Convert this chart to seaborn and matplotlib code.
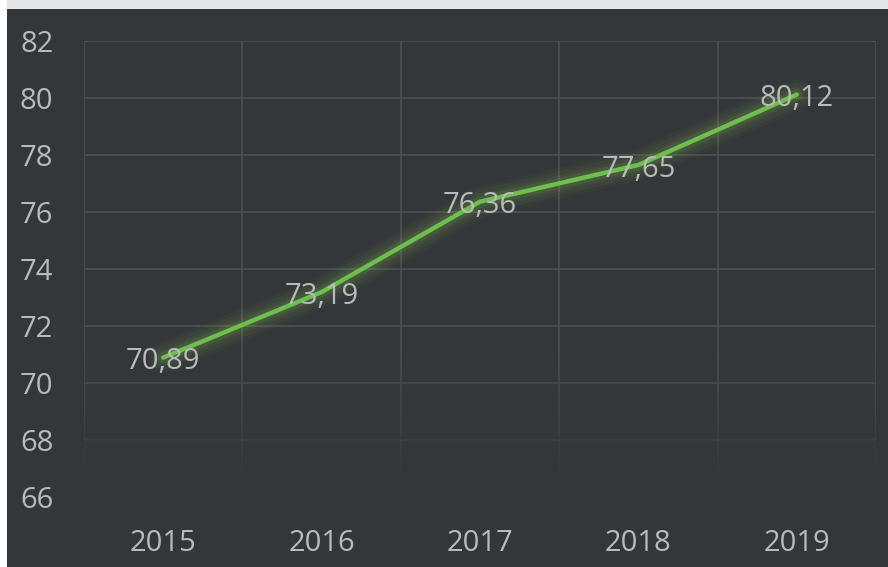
import numpy as np
import pandas as pd
import matplotlib
matplotlib.use("Agg")
import matplotlib.pyplot as plt
import seaborn as sns
from matplotlib.patches import Rectangle

years = ["2015", "2016", "2017", "2018", "2019"]
values = [70.89, 73.19, 76.36, 77.65, 80.12]
yticks = [66, 68, 70, 72, 74, 76, 78, 80, 82]

BG = "#34373a"
GRID = "#4e5154"
TXT = "#b8babc"
GREEN = "#6dbf4e"

sns.set_theme(style="dark")
plt.rcParams['font.family'] = ['Open Sans', 'DejaVu Sans']

fig = plt.figure(figsize=(8.88, 5.67), dpi=100, facecolor=BG)
# light border at top and left
fig.patches.append(Rectangle((0, 1 - 9/567), 1, 9/567, transform=fig.transFigure,
                             facecolor="#e6e6e6", edgecolor="none", zorder=-10))
fig.patches.append(Rectangle((0, 0), 7/888, 1, transform=fig.transFigure,
                             facecolor="white", edgecolor="none", zorder=-10))
ax = fig.add_axes([84/888, 1 - 497/567, (876 - 84)/888, (497 - 41)/567])
ax.set_facecolor(BG)

df = pd.DataFrame({"x": np.arange(len(years)), "y": values})

# grid: horizontal at ticks, vertical at category boundaries
for yv in yticks[1:]:
    ax.axhline(yv, color=GRID, lw=1.2, zorder=1)
for xv in np.arange(-0.5, len(years), 1.0):
    ax.axvline(xv, color=GRID, lw=1.2, zorder=1)

# fade overlay at bottom
grad = np.zeros((200, 1, 4))
grad[..., :3] = matplotlib.colors.to_rgb(BG)
grad[:, 0, 3] = np.clip((71.0 - np.linspace(82, 66, 200)) / 4.5, 0, 1)
ax.imshow(grad, extent=[-0.5, 4.5, 66, 82], aspect="auto", zorder=2, origin="upper",
          interpolation="bilinear")

# glow
for w, a in [(22, 0.04), (17, 0.06), (12, 0.08), (8, 0.10)]:
    ax.plot(df["x"], df["y"], color="#86c24a", lw=w, alpha=a, solid_capstyle="round", zorder=3)
sns.lineplot(data=df, x="x", y="y", color=GREEN, lw=3.2, ax=ax, zorder=4)

for xi, yi in zip(df["x"], df["y"]):
    ax.annotate(f"{yi:.2f}".replace(".", ","), (xi, yi), xytext=(0, -3),
                textcoords="offset points", ha="center", va="center",
                color=TXT, fontsize=21, zorder=5)

ax.set_xlim(-0.5, 4.5)
ax.set_ylim(66, 82)
ax.set_xticks(range(len(years)))
ax.set_xticklabels(years)
ax.set_yticks(yticks)
ax.set_yticklabels([str(v) for v in yticks])
ax.tick_params(axis="both", colors=TXT, labelsize=21, length=0)
ax.tick_params(axis="x", pad=23)
ax.tick_params(axis="y", pad=22)
ax.set_xlabel("")
ax.set_ylabel("")
ax.grid(False)
for s in ax.spines.values():
    s.set_visible(False)

fig.savefig("out.png", dpi=100, facecolor=BG)
